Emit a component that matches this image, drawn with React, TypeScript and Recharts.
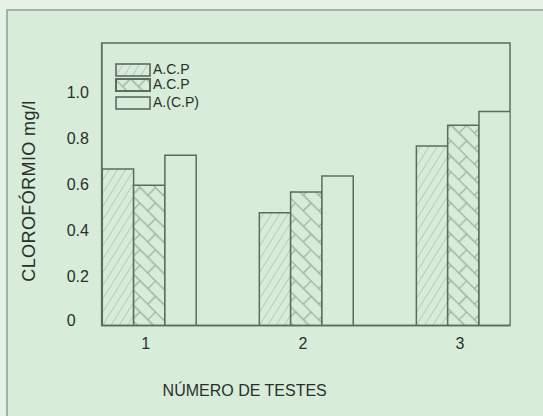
import React from 'react';
import { BarChart, Bar, XAxis, YAxis, Label, ReferenceArea } from 'recharts';

const tests = [1, 2, 3];
const acpA = [0.68, 0.49, 0.78];
const acpB = [0.61, 0.58, 0.87];
const acpC = [0.74, 0.65, 0.93];
const yTicks = [0, 0.2, 0.4, 0.6, 0.8, 1.0];
const seriesNames = ['A.C.P', 'A.C.P', 'A.(C.P)'];
const xDomain = [0.7, 3.3];
const yDomain = [0, 1.228];

const data = tests.map((t, i) => ({ test: t, a: acpA[i], b: acpB[i], c: acpC[i] }));

const FONT = "'Liberation Sans', Arial, sans-serif";
const INK = '#2b2f2c';
const EDGE = '#5d6b61';
const HATCH = '#9fb3a3';
const BG = '#d7ecd9';

const fills = ['url(#hatch)', 'url(#weave)', BG];

const Patterns = () => (
  <svg width={0} height={0} style={{ position: 'absolute' }}>
    <defs>
      <pattern id="hatch" width={7} height={7} patternUnits="userSpaceOnUse" patternTransform="rotate(32)">
        <rect width={7} height={7} fill={BG} />
        <line x1={0} y1={0} x2={0} y2={7} stroke={HATCH} strokeWidth={1.1} />
      </pattern>
      <pattern id="weave" width={22} height={22} patternUnits="userSpaceOnUse" patternTransform="rotate(45)">
        <rect width={22} height={22} fill={BG} />
        <path d="M0 0.5 H22 M0 11.5 H22 M0.5 0 V11 M11.5 11 V22" stroke={HATCH} strokeWidth={1.4} fill="none" />
      </pattern>
    </defs>
  </svg>
);

const YTick = (props: any) => {
  const { x, y, payload } = props;
  const label = payload.value === 0 ? '0' : payload.value.toFixed(1);
  return (
    <text x={x - 35} y={y} dy={payload.value === 0 ? 0 : 3} textAnchor="start" fill={INK} fontSize={16} fontFamily={FONT}>
      {label}
    </text>
  );
};

const XTick = (props: any) => {
  const { x, y, payload } = props;
  return (
    <text x={x - 3} y={y + 15} textAnchor="middle" fill={INK} fontSize={16} fontFamily={FONT}>
      {payload.value}
    </text>
  );
};

const LegendBox = () => (
  <div style={{ fontFamily: FONT, fontSize: 14, color: INK, lineHeight: '15px' }}>
    {seriesNames.map((name, i) => (
      <div key={i} style={{ display: 'flex', alignItems: 'center', height: 15, marginTop: i === 2 ? 3 : 0 }}>
        <svg width={36} height={14} style={{ display: 'block' }}>
          <rect x={1} y={1} width={34} height={12} fill={fills[i]} stroke={EDGE} strokeWidth={i === 1 ? 2 : 1.6} />
        </svg>
        <span style={{ marginLeft: 2 }}>{name}</span>
      </div>
    ))}
  </div>
);

const axisStroke = { stroke: EDGE, strokeWidth: 1.5 };

const App = () => (
  <div style={{ position: 'absolute', left: 0, top: 0, width: 543, height: 416, background: '#e6f2e6', overflow: 'hidden' }}>
    <Patterns />
    <div style={{ position: 'absolute', left: 6, top: 9, width: 560, height: 430, background: BG, borderTop: '2px solid #a3b2a6', borderLeft: '2px solid #a3b2a6' }} />
    <div style={{ position: 'absolute', left: 0, top: 0 }}>
      <BarChart width={543} height={416} data={data} margin={{ top: 43, right: 33, bottom: 0, left: 0 }} barGap={0}>
        <XAxis
          dataKey="test"
          type="number"
          domain={xDomain}
          ticks={tests}
          allowDataOverflow
          height={90.5}
          tickLine={false}
          axisLine={axisStroke}
          tick={<XTick />}
        >
          <Label
            content={(p: any) => (
              <text x={p.viewBox.x + 143} y={p.viewBox.y + 70} textAnchor="middle" fill={INK} fontSize={16} fontFamily={FONT}>
                NÚMERO DE TESTES
              </text>
            )}
          />
        </XAxis>
        <YAxis
          type="number"
          domain={yDomain}
          ticks={yTicks}
          allowDataOverflow
          width={101.7}
          tickLine={false}
          tickSize={0}
          tickMargin={0}
          axisLine={axisStroke}
          tick={<YTick />}
        >
          <Label
            content={() => (
              <text
                x={29}
                y={191}
                transform="rotate(-90 29 191)"
                textAnchor="middle"
                dominantBaseline="central"
                fill={INK}
                fontSize={18}
                letterSpacing={0.4}
                fontFamily={FONT}
              >
                CLOROFÓRMIO mg/l
              </text>
            )}
          />
        </YAxis>
        <ReferenceArea
          x1={xDomain[0]}
          x2={xDomain[1]}
          y1={yDomain[0]}
          y2={yDomain[1]}
          fill="none"
          fillOpacity={0}
          stroke={EDGE}
          strokeWidth={1.5}
          strokeOpacity={1}
          ifOverflow="visible"
        />
        <Bar dataKey="a" name={seriesNames[0]} barSize={31.3} fill={fills[0]} stroke={EDGE} strokeWidth={1.5} isAnimationActive={false} />
        <Bar dataKey="b" name={seriesNames[1]} barSize={31.3} fill={fills[1]} stroke={EDGE} strokeWidth={1.5} isAnimationActive={false} />
        <Bar dataKey="c" name={seriesNames[2]} barSize={31.3} fill={fills[2]} stroke={EDGE} strokeWidth={1.5} isAnimationActive={false} />
      </BarChart>
    </div>
    <div style={{ position: 'absolute', left: 115, top: 62 }}>
      <LegendBox />
    </div>
  </div>
);

export default App;
